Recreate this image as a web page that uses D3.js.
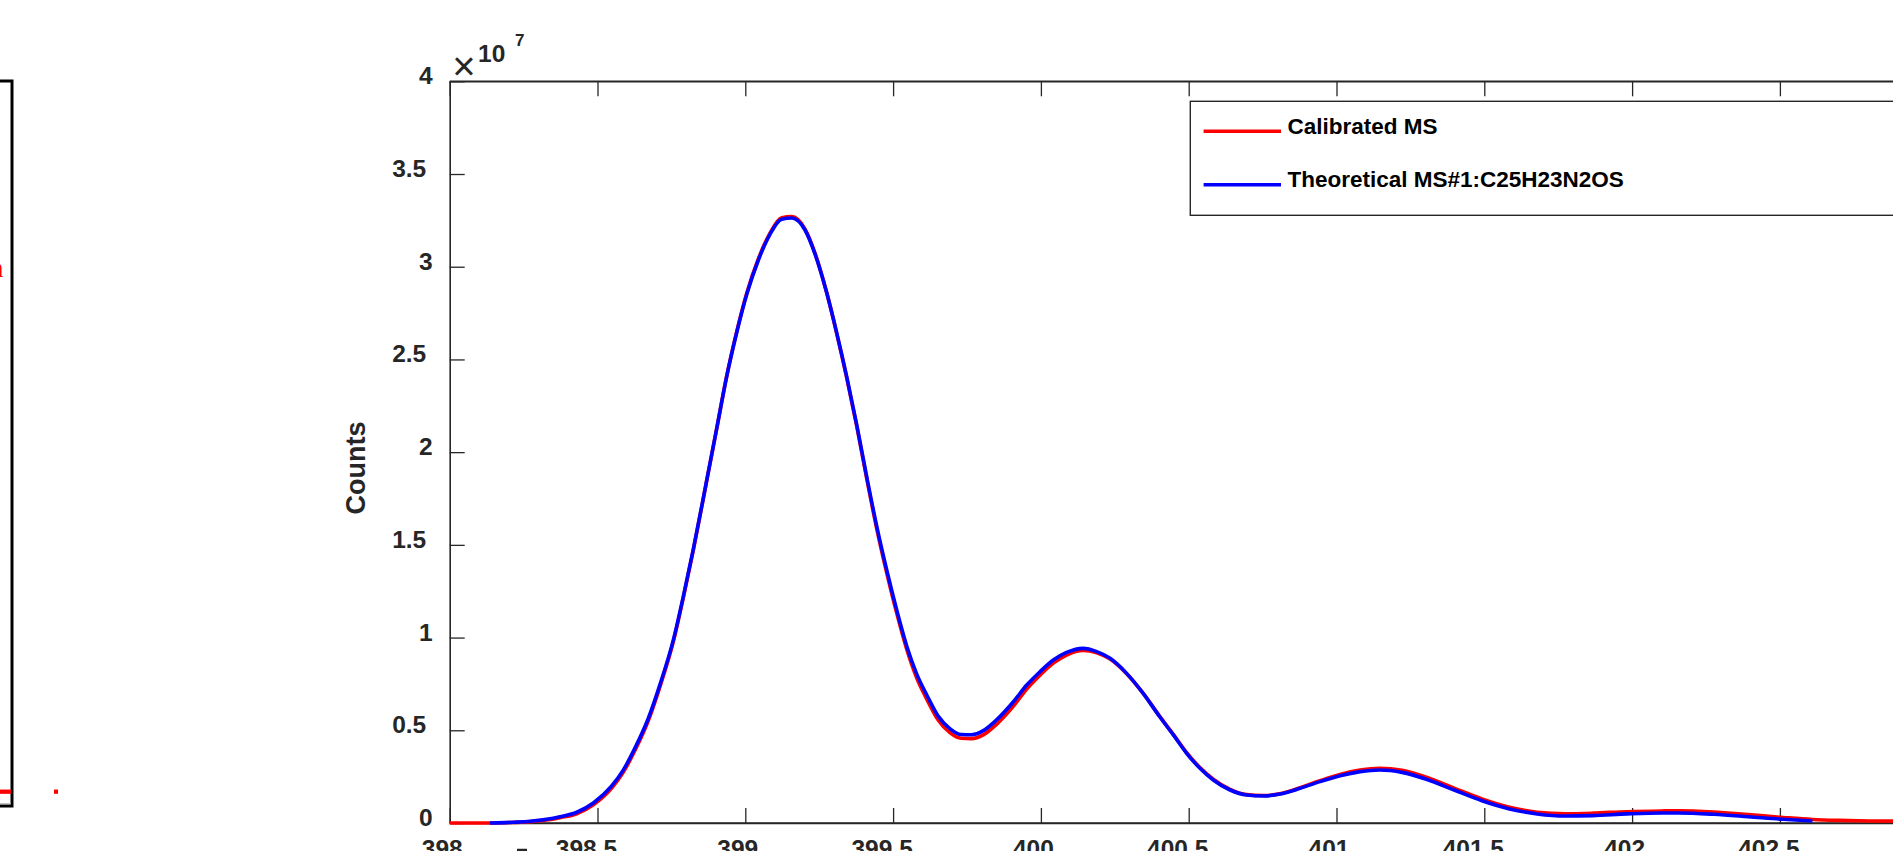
<!DOCTYPE html>
<html>
<head>
<meta charset="utf-8">
<script src="https://cdn.jsdelivr.net/npm/d3@7"></script>
<style>
  html, body { margin: 0; padding: 0; background: #fff; overflow: hidden; }
  svg { display: block; }
  text { font-family: "Liberation Sans", Arial, Helvetica, sans-serif; }
</style>
</head>
<body>
<svg id="chart" width="1893" height="851"></svg>
<script>
// m/z grid (x values)
const mzBlue = [398.136,398.215,398.272,398.328,398.373,398.430,398.486,398.548,398.587,398.627,398.672,398.711,398.757,398.790,398.824,398.869,398.903,398.937,398.971,399.005,399.044,399.084,399.123,399.157,399.202,399.236,399.275,399.309,399.343,399.377,399.411,399.444,399.478,399.512,399.546,399.580,399.614,399.653,399.693,399.730,399.766,399.805,399.850,399.907,399.952,399.997,400.042,400.087,400.143,400.189,400.234,400.290,400.346,400.402,400.448,400.493,400.538,400.583,400.640,400.696,400.752,400.809,400.877,400.944,401.012,401.080,401.146,401.222,401.304,401.398,401.492,401.585,401.679,401.773,401.866,401.983,402.100,402.159,402.276,402.393,402.510,402.610];
// Theoretical MS counts (x 1e7)
const theoreticalE7 = [0.000,0.004,0.009,0.020,0.034,0.058,0.108,0.200,0.285,0.405,0.565,0.745,0.990,1.220,1.475,1.844,2.125,2.407,2.645,2.851,3.035,3.176,3.256,3.263,3.198,3.068,2.862,2.645,2.407,2.147,1.865,1.605,1.367,1.150,0.955,0.803,0.690,0.575,0.508,0.477,0.476,0.498,0.556,0.654,0.744,0.816,0.879,0.920,0.942,0.924,0.888,0.807,0.699,0.573,0.475,0.376,0.295,0.232,0.178,0.151,0.146,0.156,0.187,0.223,0.255,0.277,0.286,0.273,0.236,0.178,0.120,0.076,0.049,0.038,0.040,0.049,0.054,0.054,0.047,0.034,0.020,0.011];

const mzRed = [398.000,398.136,398.215,398.272,398.328,398.373,398.430,398.486,398.548,398.587,398.627,398.672,398.711,398.757,398.790,398.824,398.869,398.903,398.937,398.971,399.005,399.044,399.084,399.123,399.157,399.202,399.236,399.275,399.309,399.343,399.377,399.411,399.444,399.478,399.512,399.546,399.580,399.614,399.653,399.693,399.730,399.766,399.805,399.850,399.907,399.952,399.997,400.042,400.087,400.143,400.189,400.234,400.290,400.346,400.402,400.448,400.493,400.538,400.583,400.640,400.696,400.752,400.809,400.877,400.944,401.012,401.080,401.146,401.222,401.304,401.398,401.492,401.585,401.679,401.773,401.866,401.983,402.100,402.159,402.276,402.393,402.510,402.610,402.700,402.800,402.900,403.000,403.200];
// Calibrated MS counts (x 1e7)
const calibratedE7 = [0.000,0.000,0.003,0.007,0.016,0.029,0.050,0.098,0.188,0.273,0.392,0.552,0.734,0.981,1.213,1.470,1.842,2.125,2.410,2.650,2.858,3.042,3.183,3.264,3.270,3.203,3.072,2.862,2.642,2.402,2.140,1.855,1.592,1.352,1.133,0.937,0.782,0.668,0.554,0.486,0.457,0.455,0.475,0.532,0.630,0.722,0.797,0.862,0.906,0.930,0.918,0.884,0.805,0.699,0.575,0.478,0.380,0.299,0.236,0.181,0.153,0.148,0.158,0.190,0.228,0.262,0.285,0.295,0.284,0.247,0.188,0.130,0.085,0.058,0.050,0.053,0.061,0.065,0.066,0.059,0.045,0.030,0.019,0.014,0.011,0.010,0.009,0.008];

const xTicks = [398, 398.5, 399, 399.5, 400, 400.5, 401, 401.5, 402, 402.5, 403];
const yTicks = [0, 0.5, 1, 1.5, 2, 2.5, 3, 3.5, 4];
const seriesNames = ["Calibrated MS", "Theoretical MS#1:C25H23N2OS"];
const seriesColors = ["#ff0000", "#0000ff"];
const yLabel = "Counts";

(function () {
const svg = d3.select("#chart");
const pLeft = 449.7, pTop = 81.3, pBottom = 823;
const x = d3.scaleLinear().domain([398, 403]).range([pLeft, pLeft + 10 * 147.8]);
const y = d3.scaleLinear().domain([0, 4]).range([pBottom, pTop]);
const axisColor = "#262626";
const fmt = d3.format("");

// ----- left neighbouring panel fragment -----
const lp = svg.append("g");
lp.append("rect").attr("x", -20).attr("y", 81).attr("width", 32).attr("height", 725)
  .attr("fill", "none").attr("stroke", "#000").attr("stroke-width", 3);
lp.append("line").attr("x1", 0).attr("x2", 11).attr("y1", 803.6).attr("y2", 803.6)
  .attr("stroke", "#bbb").attr("stroke-width", 1);
lp.append("line").attr("x1", 0).attr("x2", 11).attr("y1", 791.7).attr("y2", 791.7)
  .attr("stroke", "#ff0000").attr("stroke-width", 4.3);
lp.append("rect").attr("x", 54).attr("y", 789.5).attr("width", 4).attr("height", 4.3)
  .attr("fill", "#ff0000");
lp.append("text").attr("x", 3.5).attr("y", 277).attr("text-anchor", "end")
  .style("font-family", "'Liberation Serif', 'DejaVu Serif', serif")
  .style("font-size", "28px").attr("fill", "#ff0000").text("n");

// ----- main axes -----
const clipId = "plotclip";
svg.append("clipPath").attr("id", clipId).append("rect")
  .attr("x", pLeft).attr("y", pTop - 5).attr("width", 2000).attr("height", pBottom - pTop + 10);

const gAx = svg.append("g");
const yAxis = d3.axisLeft(y).tickValues(yTicks).tickFormat(fmt).tickSizeInner(-15).tickSizeOuter(0).tickPadding(17);
const gy = gAx.append("g").attr("transform", `translate(${pLeft},0)`).call(yAxis);
gy.selectAll(".tick text").attr("dy", "0.1em")
  .attr("x", d => (Number.isInteger(d) ? -17 : -23.5));

const xAxisB = d3.axisBottom(x).tickValues(xTicks).tickFormat(fmt).tickSizeInner(-15).tickSizeOuter(0).tickPadding(17);
const gxb = gAx.append("g").attr("transform", `translate(0,${pBottom})`).call(xAxisB);
gxb.selectAll(".tick text").attr("x", d => (Number.isInteger(d) ? -8 : -11.5));

const xAxisT = d3.axisTop(x).tickValues(xTicks).tickFormat("").tickSizeInner(-15).tickSizeOuter(0);
gAx.append("g").attr("transform", `translate(0,${pTop})`).call(xAxisT);

gAx.selectAll(".domain").attr("stroke", axisColor).attr("stroke-width", 1.6);
gAx.selectAll(".tick line").attr("stroke", axisColor).attr("stroke-width", 1.3);
gAx.selectAll(".tick text").attr("fill", axisColor)
  .style("font-size", "24.5px").style("font-weight", "bold");
gAx.append("line").attr("x1", pLeft).attr("x2", 1900).attr("y1", pTop).attr("y2", pTop)
  .attr("stroke", axisColor).attr("stroke-width", 1.6);
gAx.append("line").attr("x1", pLeft).attr("x2", 1900).attr("y1", pBottom).attr("y2", pBottom)
  .attr("stroke", axisColor).attr("stroke-width", 1.6);

// exponent label
svg.append("text").attr("x", 464).attr("y", 79.5).attr("text-anchor", "middle")
  .style("font-size", "40px").attr("fill", axisColor).text("\u00D7");
svg.append("text").attr("x", 478).attr("y", 61.7)
  .style("font-size", "24.5px").style("font-weight", "bold").attr("fill", axisColor).text("10");
svg.append("text").attr("x", 515).attr("y", 45.7)
  .style("font-size", "17px").style("font-weight", "bold").attr("fill", axisColor).text("7");

// y label
svg.append("text").attr("transform", "translate(365,468) rotate(-90)")
  .attr("text-anchor", "middle")
  .style("font-size", "27px").style("font-weight", "bold").attr("fill", axisColor).text(yLabel);

// stray mark below x axis
svg.append("line").attr("x1", 517).attr("x2", 527).attr("y1", 850).attr("y2", 850)
  .attr("stroke", axisColor).attr("stroke-width", 2.5);

// ----- curves -----
const line = d3.line().x(d => x(d[0])).y(d => y(d[1])).curve(d3.curveMonotoneX);
const redData = mzRed.map((m, i) => [m, calibratedE7[i]]);
const blueData = mzBlue.map((m, i) => [m, theoreticalE7[i]]);
const gc = svg.append("g").attr("clip-path", `url(#${clipId})`);
gc.append("path").datum(redData).attr("d", line).attr("fill", "none")
  .attr("stroke", seriesColors[0]).attr("stroke-width", 3.6).attr("stroke-linejoin", "round");
gc.append("path").datum(blueData).attr("d", line).attr("fill", "none")
  .attr("stroke", seriesColors[1]).attr("stroke-width", 3.6).attr("stroke-linejoin", "round");

// ----- legend -----
const lg = svg.append("g");
lg.append("rect").attr("x", 1190.3).attr("y", 101.3).attr("width", 760).attr("height", 114)
  .attr("fill", "#fff").attr("stroke", axisColor).attr("stroke-width", 1.4);
const legY = [131.3, 184.7];
seriesNames.forEach((name, i) => {
  lg.append("line").attr("x1", 1203.6).attr("x2", 1281).attr("y1", legY[i]).attr("y2", legY[i])
    .attr("stroke", seriesColors[i]).attr("stroke-width", 3.6);
  lg.append("text").attr("x", 1287.4).attr("y", legY[i] + 2.2)
    .style("font-size", "22.5px").style("font-weight", "bold").attr("fill", "#000").text(name);
});
})();
</script>
</body>
</html>
